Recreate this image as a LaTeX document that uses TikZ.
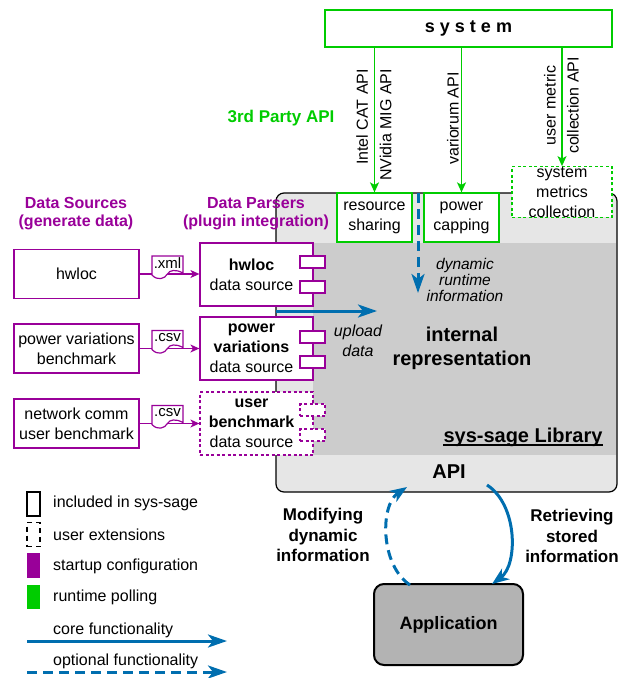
\documentclass[tikz,border=0pt]{standalone}
\usepackage{fontspec}
\setmainfont{Liberation Sans}
\usetikzlibrary{arrows.meta}
\definecolor{purp}{HTML}{990099}
\definecolor{grn}{HTML}{00CC00}
\definecolor{blu}{HTML}{006EAF}
\definecolor{libgray}{HTML}{E6E6E6}
\definecolor{coregray}{HTML}{CCCCCC}
\definecolor{appgray}{HTML}{B3B3B3}
\tikzset{
  fs/.style={font=\fontsize{16}{20}\selectfont, align=center, inner sep=0pt},
  bigbold/.style={font=\fontsize{20}{24}\selectfont\bfseries, align=center, inner sep=0pt},
  sidebold/.style={font=\fontsize{17}{20.5}\selectfont\bfseries, align=center, inner sep=0pt},
  head/.style={font=\fontsize{16}{18}\selectfont\bfseries, text=purp, align=center, inner sep=0pt},
  srcbox/.style={draw=purp, fill=white, line width=1.2pt, minimum width=125pt, minimum height=49pt, fs},
  parserbox/.style={draw=purp, fill=white, line width=1.2pt, minimum width=113pt, minimum height=63pt},
  tabbox/.style={draw=purp, fill=white, line width=1.2pt, minimum width=25pt, minimum height=12pt, inner sep=0pt},
  userdash/.style={dash pattern=on 3pt off 2.5pt},
  greenbox/.style={draw=grn, fill=white, line width=1.3pt, fs},
  parrow/.style={draw=purp, line width=1.3pt, -{Stealth[length=9pt, width=8pt, inset=2.5pt]}},
  garrow/.style={draw=grn, line width=1.3pt, -{Stealth[length=10pt, width=9pt, inset=2.5pt]}},
  barrow/.style={draw=blu, line width=3pt, -{Stealth[length=19pt, width=13pt, inset=5pt]}},
  bdash/.style={dash pattern=on 10pt off 6pt},
  legtext/.style={fs, anchor=west},
  pics/docsym/.style={code={
    \filldraw[draw=purp, fill=white, line width=1.2pt]
      (-15.5,-18) -- (15.5,-18) -- (15.5,-1)
      .. controls (8,-5) and (2,-4) .. (0,0)
      .. controls (-3,5) and (-10,7) .. (-15.5,1) -- cycle;
    \node[font=\fontsize{15}{18}\selectfont, inner sep=0pt] (-lbl) at (0,-10.5) {#1};
  }}
}
\begin{document}
\begin{tikzpicture}[x=1pt, y=-1pt]
\useasboundingbox (0,0) rectangle (619,678);

% sys-sage library body
\node[draw=black, line width=1.2pt, fill=libgray, rounded corners=8pt,
      minimum width=341pt, minimum height=299pt, inner sep=0pt] (lib) at (446.5,342.5) {};
\fill[coregray] (313,243) rectangle (616.4,455);
\node[bigbold] (irep) at (462,348) {internal\\representation};
\node[bigbold] (title) at (523,437) {sys-sage Library};
\draw[line width=1.3pt] ([yshift=-3pt]title.base west) -- ([yshift=-3pt]title.base east);
\node[bigbold] (api) at (449,472) {API};

% system and third party interfaces
\node[draw=grn, line width=1.3pt, fill=white, minimum width=287pt, minimum height=37pt,
      font=\fontsize{18}{20}\selectfont\bfseries] (sys) at (468.5,28.5) {s y s t e m};
\node[greenbox, minimum width=75pt, minimum height=49pt] (rs) at (374.5,217.5) {resource\\sharing};
\node[greenbox, minimum width=75pt, minimum height=49pt] (pc) at (461.5,217.5) {power\\capping};
\node[greenbox, dash pattern=on 3pt off 2.5pt, minimum width=100pt, minimum height=50pt] (smc) at (562,192) {system\\metrics\\collection};
\draw[garrow] (rs.north |- sys.south) -- (rs.north);
\draw[garrow] (pc.north |- sys.south) -- (pc.north);
\draw[garrow] (smc.north |- sys.south) -- (smc.north);
\node[fs, rotate=90, align=right, font=\fontsize{16}{23.5}\selectfont] (capi) at (374,125) {Intel CAT API\\NVidia MIG API};
\node[fs, rotate=90] (vapi) at (453,118.5) {variorum API};
\node[fs, rotate=90, font=\fontsize{16}{23}\selectfont] (uapi) at (561.5,105.5) {user metric\\collection API};
\node[font=\fontsize{17}{20}\selectfont\bfseries, text=grn, inner sep=0pt] (tpapi) at (281,118) {3rd Party API};

% dynamic runtime information
\coordinate (dynstart) at (418,193);
\coordinate (dynend) at (418,293);
\draw[barrow, bdash] (dynstart) -- (dynend);
\node[fs, font=\fontsize{15.5}{16}\selectfont\itshape] (dyn) at (465,280) {dynamic\\runtime\\information};

% headings
\node[head] (hsrc) at (76,214) {Data Sources\\(generate data)};
\node[head] (hpar) at (256,214) {Data Parsers\\(plugin integration)};

% upload arrow
\coordinate (upstart) at (276,311);
\coordinate (upend) at (377,311);
\draw[barrow] (upstart) -- (upend);
\node[fs, font=\fontsize{16}{20}\selectfont\itshape] (upl) at (358,341) {upload\\data};

% data sources
\node[srcbox] (s1) at (76.5,274) {hwloc};
\node[srcbox] (s2) at (76.5,348.5) {power variations\\benchmark};
\node[srcbox] (s3) at (76.5,423.5) {network comm\\user benchmark};

% data parsers
\node[parserbox, label={[fs, xshift=-5pt]center:\textbf{hwloc}\\data source}] (p1) at (256.5,274.5) {};
\node[tabbox] (p1a) at (312.5,262) {};
\node[tabbox] (p1b) at (312.5,287) {};
\node[parserbox, label={[fs, xshift=-5pt]center:\textbf{power}\\\textbf{variations}\\data source}] (p2) at (256.5,348.5) {};
\node[tabbox] (p2a) at (312.5,337) {};
\node[tabbox] (p2b) at (312.5,362) {};
\node[parserbox, userdash, label={[fs, xshift=-5pt]center:\textbf{user}\\\textbf{benchmark}\\data source}] (p3) at (256.5,423.5) {};
\node[tabbox, userdash] (p3a) at (312.5,410) {};
\node[tabbox, userdash] (p3b) at (312.5,435) {};

% source to parser links with file formats
\draw[parrow] (s1.east) -- (s1.east -| p1.west);
\draw[parrow] (s2.east) -- (s2.east -| p2.west);
\draw[parrow] (s3.east) -- (s3.east -| p3.west);
\pic (d1) at (167.5,274) {docsym=.xml};
\pic (d2) at (167.5,348.5) {docsym=.csv};
\pic (d3) at (167.5,423.5) {docsym=.csv};

% application
\node[draw=black, line width=2pt, fill=appgray, rounded corners=10pt, minimum width=149pt, minimum height=81pt,
      font=\fontsize{18}{20}\selectfont\bfseries] (app) at (448.5,624.5) {Application};
\coordinate (getstart) at (487,485);
\coordinate (getend) at (492,584);
\draw[barrow, -{Stealth[length=17pt, width=13pt, inset=5pt]}] (getstart) .. controls (518,505) and (518,565) .. (getend);
\coordinate (setstart) at (410,585);
\coordinate (setend) at (407,487);
\draw[barrow, bdash, -{Stealth[length=17pt, width=13pt, inset=5pt]}] (setstart) .. controls (380,565) and (380,505) .. (setend);
\node[sidebold] (mod) at (323,535) {Modifying\\dynamic\\information};
\node[sidebold] (ret) at (572,536) {Retrieving\\stored\\information};

% legend
\node[draw=black, line width=1.3pt, fill=white, minimum width=13pt, minimum height=24pt, inner sep=0pt] (lg1) at (33.5,504) {};
\node[legtext] (lt1) at (53,503) {included in sys-sage};
\node[draw=black, line width=1.3pt, dash pattern=on 5pt off 4pt, fill=white, minimum width=13pt, minimum height=24pt, inner sep=0pt] (lg2) at (33.5,534.5) {};
\node[legtext] (lt2) at (53,535) {user extensions};
\node[fill=purp, minimum width=13pt, minimum height=25pt, inner sep=0pt] (lg3) at (33.5,565.5) {};
\node[legtext] (lt3) at (53,566) {startup configuration};
\node[fill=grn, minimum width=13pt, minimum height=24pt, inner sep=0pt] (lg4) at (33.5,597) {};
\node[legtext] (lt4) at (53,597) {runtime polling};
\node[legtext] (lt5) at (53,630) {core functionality};
\coordinate (coreA) at (27,641);
\coordinate (coreB) at (227,641);
\draw[barrow] (coreA) -- (coreB);
\node[legtext] (lt6) at (53,661) {optional functionality};
\coordinate (optA) at (27,672);
\coordinate (optB) at (227,672);
\draw[barrow, bdash] (optA) -- (optB);
\end{tikzpicture}
\end{document}
